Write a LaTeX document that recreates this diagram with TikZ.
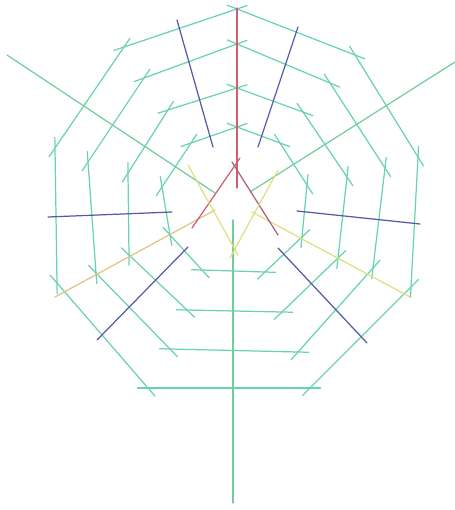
\documentclass[tikz,border=0pt]{standalone}
\usetikzlibrary{calc}
\definecolor{hilo}{RGB}{105,210,175}
\definecolor{verdeRadio}{RGB}{115,205,155}
\definecolor{azulRadio}{RGB}{85,90,165}
\definecolor{rojoRadio}{RGB}{205,95,115}
\definecolor{granate}{RGB}{175,95,125}
\definecolor{amarillo}{RGB}{220,225,130}
\definecolor{ocre}{RGB}{225,195,130}
\begin{document}
\begin{tikzpicture}[x=0.02cm,y=-0.02cm,line cap=round,line width=0.7pt]
  \useasboundingbox (0,0) rectangle (455,510);
  % ── vértices de los cuatro anillos (de fuera hacia dentro) ──
  \foreach \n/\x/\y in {0/237/9,1/355/55,2/418/157,3/411/287,4/310/388,5/148/388,6/57/283,7/55/148,8/124/47}
    \coordinate (a1-\n) at (\x,\y);
  \foreach \n/\x/\y in {0/237/44,1/330/83,2/385/168,3/373/268,4/298/352,5/170/349,6/96/273,7/88/162,8/144/78}
    \coordinate (a2-\n) at (\x,\y);
  \foreach \n/\x/\y in {0/237/88,1/303/112,2/347/177,3/338/258,4/282/312,5/187/310,6/129/255,7/128/173,8/168/110}
    \coordinate (a3-\n) at (\x,\y);
  \foreach \n/\x/\y in {0/237/127,1/280/143,2/307/185,3/302/237,4/265/272,5/202/270,6/170/235,7/162/187,8/191/143}
    \coordinate (a4-\n) at (\x,\y);
  % ── hilos de los anillos: cada tramo se pasa un poco del vértice ──
  \foreach \r in {1,...,4} {
    \foreach \i in {0,...,8} {
      \pgfmathtruncatemacro\j{mod(\i+1,9)}
      \draw[hilo] ($(a\r-\i)!-6pt!(a\r-\j)$) -- ($(a\r-\j)!-6pt!(a\r-\i)$);
    }
  }
  % ── radios ──
  \draw[rojoRadio] (237,8) -- (237,188);
  \draw[verdeRadio] (233,220) -- (233,503);
  \draw[verdeRadio] (7,55) -- (215,193);
  \draw[verdeRadio] (455,62) -- (250,192);
  \foreach \xa/\ya/\xb/\yb in {177/20/213/147, 298/27/258/147, 48/217/172/212,
                               297/211/420/224, 97/340/188/247, 278/248/367/343}
    \draw[azulRadio] (\xa,\ya) -- (\xb,\yb);
  \draw[ocre] (55,297) -- (215,210);
  \draw[amarillo] (252,212) -- (410,297);
  % ── estrella central ──
  \draw[rojoRadio] (240,158) -- (192,228);
  \draw[granate] (232,162) -- (278,235);
  \draw[amarillo] (188,165) -- (238,255);
  \draw[amarillo] (278,170) -- (230,258);
\end{tikzpicture}
\end{document}
